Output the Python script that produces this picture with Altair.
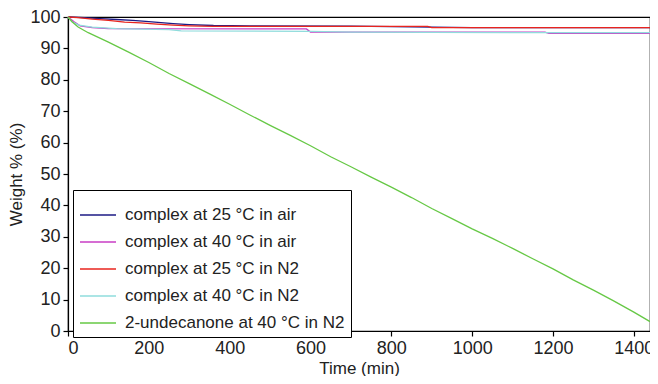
import altair as alt
import pandas as pd

series_names = [
    "complex at 25 °C in air",
    "complex at 40 °C in air",
    "complex at 25 °C in N2",
    "complex at 40 °C in N2",
    "2-undecanone at 40 °C in N2",
]
series_colors = ["#1c1a85", "#c93cc4", "#e8241e", "#8fdcdc", "#66c845"]

t_air25 = [0, 40, 80, 120, 160, 200, 230, 260, 300, 360, 450, 700, 1000, 1440]
v_air25 = [100, 99.8, 99.5, 99.2, 98.9, 98.5, 98.2, 97.9, 97.6, 97.3, 97.2, 97.1, 96.6, 96.6]

t_air40 = [0, 15, 30, 60, 100, 590, 600, 1180, 1190, 1440]
v_air40 = [100, 98.5, 97.2, 96.6, 96.3, 96.2, 95.2, 95.2, 94.8, 94.8]

t_n2_25 = [0, 25, 60, 100, 140, 180, 220, 260, 300, 360, 890, 900, 1440]
v_n2_25 = [100, 99.8, 99.3, 98.9, 98.4, 98.1, 97.7, 97.4, 97.2, 97.0, 97.0, 96.6, 96.6]

t_n2_40 = [0, 10, 27, 60, 120, 250, 280, 600, 700, 1190, 1440]
v_n2_40 = [100, 98.5, 97.4, 96.8, 96.3, 96.0, 95.6, 95.4, 95.2, 95.0, 95.0]

t_und = [0, 10, 25, 50, 75, 100, 150, 200, 250, 300, 350, 400, 450, 500, 550, 600,
         650, 700, 750, 800, 850, 900, 950, 1000, 1050, 1100, 1150, 1200, 1250,
         1300, 1350, 1400, 1440]
v_und = [100, 98.5, 96.8, 95, 93.5, 92, 88.8, 85.5, 82, 78.8, 75.5, 72.2, 68.8, 65.5,
         62.3, 59, 55.5, 52.3, 49, 45.8, 42.5, 39, 35.8, 32.5, 29.5, 26.3, 23, 19.8,
         16.3, 13, 9.6, 6, 3]

x_ticks = [0, 200, 400, 600, 800, 1000, 1200, 1400]
y_ticks = [0, 10, 20, 30, 40, 50, 60, 70, 80, 90, 100]

rows = []
for i, (ts, vs) in enumerate([(t_air25, v_air25), (t_air40, v_air40), (t_n2_25, v_n2_25),
                              (t_n2_40, v_n2_40), (t_und, v_und)]):
    for t, v in zip(ts, vs):
        rows.append({"Time": t, "Weight": v, "Series": series_names[i], "k": i})
df = pd.DataFrame(rows)

FONT = "Liberation Sans"

chart = alt.Chart(df).mark_line(strokeWidth=1.3).encode(
    x=alt.X("Time:Q", title="Time (min)",
            scale=alt.Scale(domain=[0, 1440], nice=False, zero=True),
            axis=alt.Axis(values=x_ticks, grid=False, format="d")),
    y=alt.Y("Weight:Q", title="Weight % (%)",
            scale=alt.Scale(domain=[0, 100], nice=False),
            axis=alt.Axis(values=y_ticks, grid=False, format="d")),
    color=alt.Color("Series:N", sort=series_names,
                    scale=alt.Scale(domain=series_names, range=series_colors),
                    legend=alt.Legend(title=None, orient="none", legendX=5, legendY=173,
                                      strokeColor="black", fillColor="white",
                                      padding=6, symbolType="stroke",
                                      symbolSize=1300, symbolStrokeWidth=1.5,
                                      labelFontSize=17, labelFont=FONT,
                                      labelColor="#222222", labelOffset=8,
                                      rowPadding=-10.5, labelLimit=400)),
    detail="k:O",
    order="k:O",
).properties(
    width=582, height=314,
    autosize=alt.AutoSizeParams(type="none"),
    padding={"left": 60, "top": 9, "right": 0, "bottom": 45},
).configure_view(
    stroke="black", strokeWidth=1.2
).configure_axis(
    domainColor="black", tickColor="black", labelColor="#222222", titleColor="#222222",
    labelFont=FONT, titleFont=FONT, labelFontSize=18, titleFontSize=17,
    titleFontWeight="normal", tickSize=5, domainWidth=1.2, tickWidth=1.2,
    labelPadding=3,
).configure_axisX(titlePadding=3).configure_axisY(titlePadding=4)

chart.save("out.html", embed_options={"renderer": "svg", "actions": False})
